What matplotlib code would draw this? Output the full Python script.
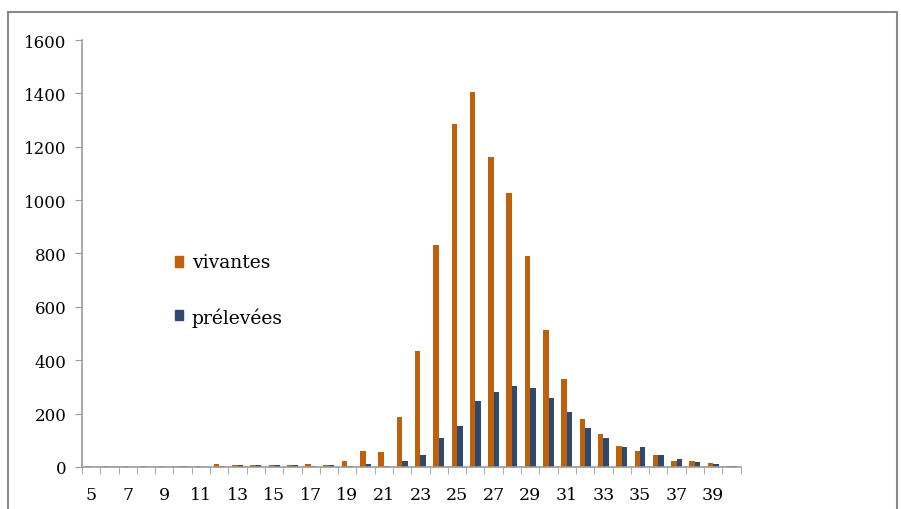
import numpy as np
import matplotlib.pyplot as plt
from matplotlib.patches import Rectangle

# Données
tailles = list(range(5, 41))
vivantes = [2, 2, 2, 2, 2, 3, 2, 12, 8, 7, 8, 8, 12, 9, 24, 60, 55, 187, 436, 832,
            1287, 1405, 1160, 1025, 790, 515, 330, 180, 124, 79, 60, 45, 22, 22, 15, 2]
prelevees = [1, 1, 1, 1, 1, 2, 1, 3, 8, 7, 8, 8, 4, 9, 3, 11, 5, 21, 45, 109,
             155, 247, 280, 303, 295, 260, 207, 146, 107, 74, 74, 45, 29, 18, 11, 5]
ticks_y = [0, 200, 400, 600, 800, 1000, 1200, 1400, 1600]

orange = '#BF600C'
bleu = '#2E4A6E'
gris = '#9A9A9A'

plt.rcParams['font.family'] = ['DejaVu Serif']

fig = plt.figure(figsize=(9.01, 5.10), dpi=100)
ax = fig.add_axes([0.091, 0.0824, 0.731, 0.8372])

x = np.array(tailles)
w = 0.3
ax.bar(x - w / 2, vivantes, width=w, color=orange, label='vivantes')
ax.bar(x + w / 2, prelevees, width=w, color=bleu, label='prélevées')

ax.set_xlim(4.5, 40.5)
ax.set_ylim(0, 1600)
ax.set_yticks(ticks_y)

# Etiquettes des x : une sur deux
ax.set_xticks(x[::2])
ax.set_xticklabels([str(t) for t in tailles[::2]], fontsize=12.5)
ax.set_xticks(np.arange(4.5, 41, 1), minor=True)
ax.tick_params(axis='x', which='major', length=0, pad=14)
ax.tick_params(axis='x', which='minor', length=5, color=gris)
ax.tick_params(axis='y', length=5, color=gris, labelsize=12, pad=6)

for s in ['top', 'right']:
    ax.spines[s].set_visible(False)
for s in ['left', 'bottom']:
    ax.spines[s].set_color(gris)
    ax.spines[s].set_linewidth(1.2)

# Légende
fig.patches.append(Rectangle((175 / 901, 1 - 268 / 510), 8 / 901, 11 / 510,
                             transform=fig.transFigure, color=orange))
fig.text(192 / 901, 1 - 263 / 510, 'vivantes', fontsize=13.5, va='center')
fig.patches.append(Rectangle((175 / 901, 1 - 321 / 510), 8 / 901, 10 / 510,
                             transform=fig.transFigure, color=bleu))
fig.text(192 / 901, 1 - 318 / 510, 'prélevées', fontsize=13.5, va='center')

# Cadre
fig.patches.append(Rectangle((8 / 901, -0.05), 889 / 901, 1.05 - 13 / 510,
                             transform=fig.transFigure, fill=False,
                             edgecolor='#8A8A8A', linewidth=1.5))

fig.savefig('out.png', dpi=100)
